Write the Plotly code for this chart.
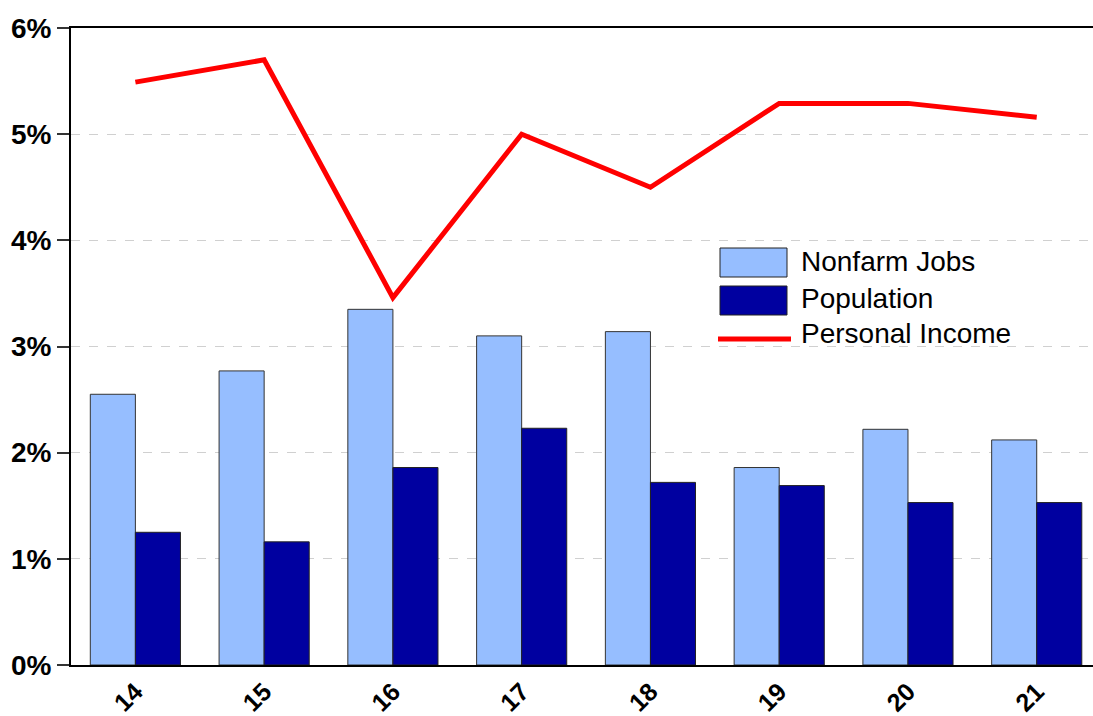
import plotly.graph_objects as go

years = ["14", "15", "16", "17", "18", "19", "20", "21"]
nonfarm_jobs = [2.55, 2.77, 3.35, 3.10, 3.14, 1.86, 2.22, 2.12]
population = [1.25, 1.16, 1.86, 2.23, 1.72, 1.69, 1.53, 1.53]
personal_income = [5.49, 5.70, 3.46, 5.00, 4.50, 5.29, 5.29, 5.16]

LIGHT = "#96BEFF"
DARK = "#0000A0"
RED = "#FF0000"

fig = go.Figure()
fig.add_trace(go.Bar(x=years, y=nonfarm_jobs, name="Nonfarm Jobs",
                     marker=dict(color=LIGHT, line=dict(color="#333333", width=1))))
fig.add_trace(go.Bar(x=years, y=population, name="Population",
                     marker=dict(color=DARK, line=dict(color="#222222", width=1))))
fig.add_trace(go.Scatter(x=years, y=personal_income, name="Personal Income", mode="lines",
                         line=dict(color=RED, width=5)))

# custom legend (swatches + labels) in pixel-matched paper coordinates
W, H = 1093, 716
ml, mr, mt, mb = 71, 0, 28, 51
pw, ph = W - ml - mr, H - mt - mb
def px(x):
    return (x - ml) / pw
def py(y):
    return 1 - (y - mt) / ph

shapes = [
    dict(type="rect", xref="paper", yref="paper", x0=px(720), x1=px(787), y0=py(277), y1=py(248),
         fillcolor=LIGHT, line=dict(color="#222222", width=1)),
    dict(type="rect", xref="paper", yref="paper", x0=px(720), x1=px(787), y0=py(315), y1=py(286),
         fillcolor=DARK, line=dict(color="#222222", width=1)),
    dict(type="line", xref="paper", yref="paper", x0=px(718), x1=px(791), y0=py(339), y1=py(339),
         line=dict(color=RED, width=5)),
]
labels = [("Nonfarm Jobs", 261), ("Population", 298), ("Personal Income", 333)]
annotations = [dict(xref="paper", yref="paper", x=px(799), y=py(yy), text=t, showarrow=False,
                    xanchor="left", yanchor="middle",
                    font=dict(family="Liberation Sans, Arial", size=28, color="#000000"))
               for t, yy in labels]

fig.update_layout(
    width=W, height=H,
    margin=dict(l=ml, r=mr, t=mt, b=mb),
    paper_bgcolor="white", plot_bgcolor="white",
    barmode="group", bargap=0.3, bargroupgap=0,
    showlegend=False,
    shapes=shapes, annotations=annotations,
    font=dict(family="Liberation Sans, Arial", color="#000000"),
)
fig.update_xaxes(
    range=[-0.5, 7.437], showline=True, linecolor="#000000", linewidth=2, mirror=True,
    ticks="", showgrid=False, tickangle=-45,
    tickfont=dict(family="Liberation Sans, Arial", size=25, color="#000000", weight="bold"),
)
fig.update_yaxes(
    range=[0, 6], dtick=1, ticksuffix="%", showline=True, linecolor="#000000", linewidth=2,
    ticks="outside", ticklen=12, tickwidth=1.5, tickcolor="#333333",
    showgrid=True, gridcolor="#D0D0D0", griddash="dash", gridwidth=1, zeroline=False,
    tickfont=dict(family="Liberation Sans, Arial", size=28, color="#000000", weight="bold"),
)

fig.write_html("out.html")
